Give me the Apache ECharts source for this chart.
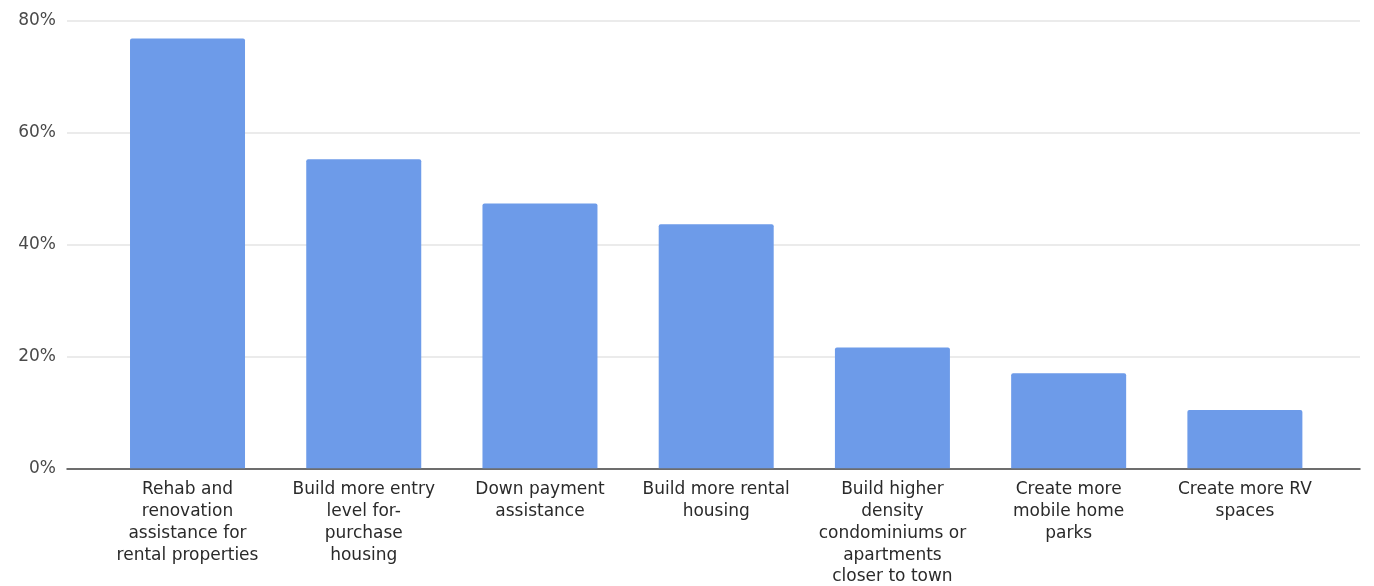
<!DOCTYPE html>
<html><head><meta charset="utf-8">
<script src="https://cdn.jsdelivr.net/npm/echarts@6/dist/echarts.min.js"></script>
<style>html,body{margin:0;padding:0;background:#fff}#c{width:1374px;height:586px}</style>
</head><body><div id="c"></div>
<script>
const categories = [
  "Rehab and\nrenovation\nassistance for\nrental properties",
  "Build more entry\nlevel for-\npurchase\nhousing",
  "Down payment\nassistance",
  "Build more rental\nhousing",
  "Build higher\ndensity\ncondominiums or\napartments\ncloser to town",
  "Create more\nmobile home\nparks",
  "Create more RV\nspaces"
];
const values = [76.8, 55.2, 47.3, 43.6, 21.6, 17.0, 10.4];
const yTicks = [0, 20, 40, 60, 80];

const chart = echarts.init(document.getElementById('c'));
const gTop = 20.5, gBottom = 117.7;
chart.setOption({
  animation: false,
  grid: [
    {left: 67, right: 14, top: gTop, bottom: gBottom, outerBoundsMode: 'none', containLabel: false},
    {left: 99.4, right: 41, top: gTop, bottom: gBottom, outerBoundsMode: 'none', containLabel: false}
  ],
  xAxis: [
    {type: 'category', gridIndex: 0, data: categories,
     axisLine: {show: true, lineStyle: {color: '#444', width: 1.5}},
     axisTick: {show: false}, axisLabel: {show: false}},
    {type: 'category', gridIndex: 1, data: categories,
     axisLine: {show: false}, axisTick: {show: false},
     axisLabel: {show: true, interval: 0, margin: 10.5, color: '#2a2a2a',
       fontFamily: 'DejaVu Sans', fontSize: 17, lineHeight: 21.8, align: 'center'}}
  ],
  yAxis: [
    {type: 'value', gridIndex: 0, min: yTicks[0], max: yTicks[yTicks.length-1], interval: 20,
     axisLine: {show: false}, axisTick: {show: false},
     axisLabel: {formatter: v => v + '%', color: '#4a4a4a', fontFamily: 'DejaVu Sans', fontSize: 17, margin: 11},
     splitLine: {lineStyle: {color: '#e4e4e4', width: 1.5}}},
    {type: 'value', gridIndex: 1, min: 0, max: 80, interval: 20, show: false,
     splitLine: {show: false}}
  ],
  series: [{
    type: 'bar', xAxisIndex: 1, yAxisIndex: 1, data: values, barWidth: 115,
    itemStyle: {color: '#6d9be9', borderRadius: [2, 2, 0, 0]}
  }]
});
</script></body></html>
